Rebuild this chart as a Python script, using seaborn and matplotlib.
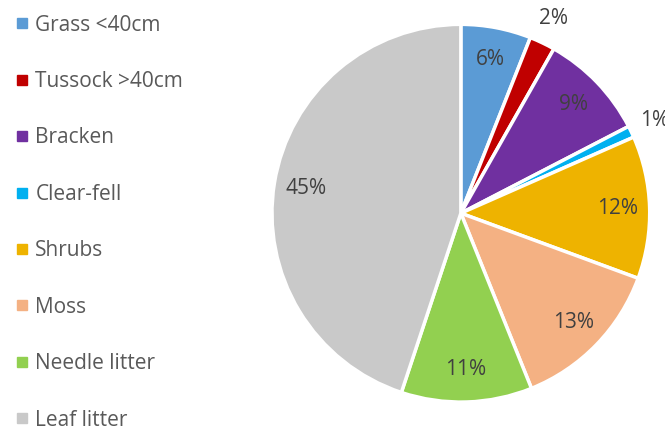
import numpy as np
import matplotlib
matplotlib.use("Agg")
import matplotlib.pyplot as plt
import seaborn as sns
from matplotlib.lines import Line2D

categories = ["Grass <40cm", "Tussock >40cm", "Bracken", "Clear-fell",
              "Shrubs", "Moss", "Needle litter", "Leaf litter"]
values = [6.0, 2.2, 9.2, 1.0, 12.2, 13.3, 11.2, 44.9]
colors = ["#5B9BD5", "#C00000", "#7030A0", "#00B0F0",
          "#EEB300", "#F4B183", "#92D050", "#C9C9C9"]
outside = ["Tussock >40cm", "Clear-fell"]

sns.set_theme(style="white")
plt.rcParams["font.family"] = ["Open Sans", "DejaVu Sans"]

fig = plt.figure(figsize=(6.65, 4.26), dpi=100)
ax = fig.add_axes([0.409, 0.056, 0.568, 0.887])

wedges, texts, autotexts = ax.pie(
    values, colors=colors, startangle=90, counterclock=False,
    autopct="%.0f%%", pctdistance=0.83,
    wedgeprops=dict(edgecolor="white", linewidth=2.5),
    textprops=dict(color="#404040", fontsize=15))

for w, t, cat in zip(wedges, autotexts, categories):
    if cat in outside:
        ang = np.deg2rad((w.theta1 + w.theta2) / 2)
        t.set_position((1.14 * np.cos(ang), 1.14 * np.sin(ang)))
ax.set_xlim(-1, 1)
ax.set_ylim(-1, 1)
ax.set_aspect("equal")

handles = [Line2D([0], [0], marker="s", linestyle="", markersize=7,
                  markerfacecolor=c, markeredgecolor=c) for c in colors]
leg = fig.legend(handles, categories, loc="upper left",
                 bbox_to_anchor=(0.003, 0.995), frameon=False,
                 fontsize=15, labelcolor="#595959", handlelength=0.7,
                 handletextpad=0.3, labelspacing=1.70, borderaxespad=0.2)

fig.savefig("out.png", dpi=100)
